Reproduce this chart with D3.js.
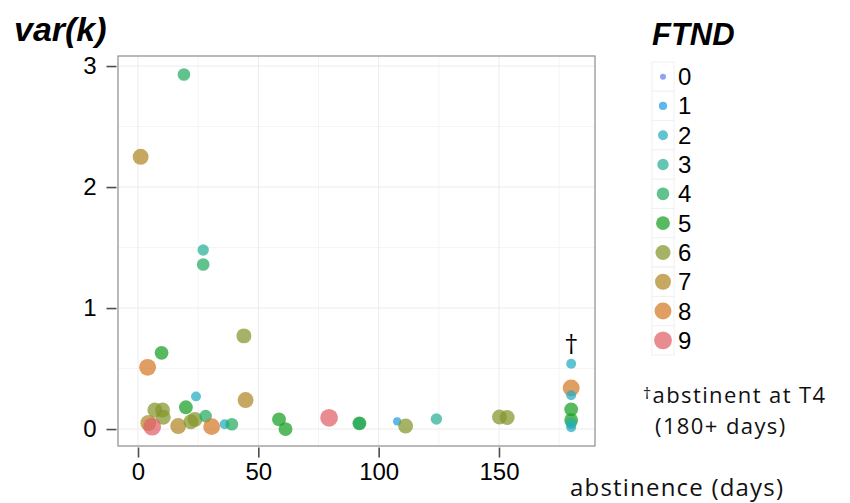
<!DOCTYPE html>
<html>
<head>
<meta charset="utf-8">
<script src="https://cdn.jsdelivr.net/npm/d3@7"></script>
<style>
  body { margin: 0; background: #fff; }
  text { font-family: "Liberation Sans", Arial, sans-serif; }
</style>
</head>
<body>
<div id="chart"></div>
<script>
// DATA
var abstinence = [19.1, 1.1, 27.1, 27.1, 44, 9.8, 4, 24.1, 44.7, 19.9,
                  7, 10.2, 10.5, 4.3, 5.9, 16.7, 22, 23.7, 28.1, 30.6,
                  36, 39, 58.6, 61.3, 79.4, 92, 92, 107.7, 111.2, 124,
                  150.2, 153.4, 180, 180, 180, 180, 180, 180, 180];
var vark = [2.93, 2.25, 1.48, 1.36, 0.77, 0.63, 0.51, 0.27, 0.24, 0.18,
            0.157, 0.157, 0.097, 0.05, 0.02, 0.025, 0.06, 0.08, 0.107, 0.02,
            0.04, 0.04, 0.08, 0.0, 0.093, 0.047, 0.047, 0.063, 0.025, 0.083,
            0.10, 0.096, 0.54, 0.34, 0.28, 0.163, 0.074, 0.047, 0.014];
var ftnd = [4, 7, 3, 4, 6, 5, 8, 2, 7, 5,
            6, 6, 6, 7, 9, 7, 6, 6, 4, 8,
            2, 4, 5, 5, 9, 5, 4, 1, 6, 3,
            6, 6, 2, 8, 2, 5, 5, 3, 2];
var ftndLevels = [0, 1, 2, 3, 4, 5, 6, 7, 8, 9];
var ftndColors = ["#6380eb", "#239be0", "#24aac0", "#26b096", "#26ab63",
                  "#18a023", "#84962b", "#b08626", "#d47826", "#e06068"];
var xTicks = [0, 50, 100, 150];
var xMinor = [25, 75, 125, 175];
var yTicks = [0, 1, 2, 3];
var yMinor = [0.5, 1.5, 2.5];

var W = 850, H = 503;
var panel = { left: 118, right: 595, top: 56, bottom: 446 };

var svg = d3.select('#chart').append('svg')
  .attr('width', W).attr('height', H);

var x = d3.scaleLinear().domain([-8.31, 189.9]).range([panel.left, panel.right]);
var y = d3.scaleLinear().domain([-0.14, 3.083]).range([panel.bottom, panel.top]);
var color = d3.scaleOrdinal().domain(ftndLevels).range(ftndColors);
var size = d3.scaleRadial().domain([0, 9]).range([3, 8.9]);

// grid
var grid = svg.append('g');
grid.selectAll('.xminor').data(xMinor).enter().append('line')
  .attr('x1', d => x(d)).attr('x2', d => x(d))
  .attr('y1', panel.top).attr('y2', panel.bottom)
  .attr('stroke', '#f5f5f5').attr('stroke-width', 1);
grid.selectAll('.yminor').data(yMinor).enter().append('line')
  .attr('x1', panel.left).attr('x2', panel.right)
  .attr('y1', d => y(d)).attr('y2', d => y(d))
  .attr('stroke', '#f5f5f5').attr('stroke-width', 1);
grid.selectAll('.xmajor').data(xTicks).enter().append('line')
  .attr('x1', d => x(d)).attr('x2', d => x(d))
  .attr('y1', panel.top).attr('y2', panel.bottom)
  .attr('stroke', '#ececec').attr('stroke-width', 1);
grid.selectAll('.ymajor').data(yTicks).enter().append('line')
  .attr('x1', panel.left).attr('x2', panel.right)
  .attr('y1', d => y(d)).attr('y2', d => y(d))
  .attr('stroke', '#ececec').attr('stroke-width', 1);

// points
var pts = abstinence.map((a, i) => ({ a: a, v: vark[i], f: ftnd[i] }));
svg.append('g').selectAll('circle').data(pts).enter().append('circle')
  .attr('cx', d => x(d.a)).attr('cy', d => y(d.v))
  .attr('r', d => size(d.f))
  .attr('fill', d => color(d.f))
  .attr('fill-opacity', 0.72);

// panel border
svg.append('rect')
  .attr('x', panel.left).attr('y', panel.top)
  .attr('width', panel.right - panel.left).attr('height', panel.bottom - panel.top)
  .attr('fill', 'none').attr('stroke', '#8c8c8c').attr('stroke-width', 1.2);

// axes
var xAxis = d3.axisBottom(x).tickValues(xTicks).tickSize(10).tickPadding(5)
  .tickFormat(d3.format('d'));
var yAxis = d3.axisLeft(y).tickValues(yTicks).tickSize(10).tickPadding(10)
  .tickFormat(d3.format('d'));
var gx = svg.append('g').attr('transform', 'translate(0,' + (panel.bottom + 1.5) + ')').call(xAxis);
var gy = svg.append('g').attr('transform', 'translate(' + (panel.left - 1.5) + ',0)').call(yAxis);
[gx, gy].forEach(g => {
  g.select('.domain').remove();
  g.selectAll('line').attr('stroke', '#4d4d4d').attr('stroke-width', 1.6);
  g.selectAll('text').attr('font-size', 24).attr('fill', '#000')
    .style('font-family', '"Liberation Sans", Arial, sans-serif');
});

// titles
svg.append('text').attr('x', 14).attr('y', 41)
  .attr('font-size', 34).attr('font-weight', 'bold').attr('font-style', 'italic')
  .text('var(k)');
svg.append('text').attr('x', 570).attr('y', 496)
  .style('font-family', '"Open Sans", sans-serif')
  .attr('font-size', 24).attr('letter-spacing', 1.2).attr('fill', '#111')
  .text('abstinence (days)');

// dagger over the 180+ column
svg.append('text').attr('x', x(180)).attr('y', 352)
  .attr('text-anchor', 'middle')
  .style('font-family', '"DejaVu Serif", serif')
  .attr('font-size', 24).text('\u2020');

// legend
var lg = svg.append('g');
lg.append('text').attr('x', 652).attr('y', 45)
  .attr('font-size', 31).attr('font-weight', 'bold').attr('font-style', 'italic')
  .text('FTND');
var keyTop = 62, keyH = 29.3;
var keys = lg.selectAll('.key').data(ftndLevels).enter().append('g')
  .attr('transform', (d, i) => 'translate(652,' + (keyTop + i * keyH) + ')');
keys.append('rect').attr('width', 22).attr('height', keyH)
  .attr('fill', '#fff').attr('stroke', '#f0f0f0').attr('stroke-width', 1);
keys.append('circle').attr('cx', 11).attr('cy', keyH / 2)
  .attr('r', d => size(d)).attr('fill', d => color(d)).attr('fill-opacity', 0.72);
keys.append('text').attr('x', 26).attr('y', keyH / 2 + 8.5)
  .attr('font-size', 24).text(d => d);

// footnote
var fn = svg.append('text')
  .style('font-family', '"Open Sans", sans-serif')
  .attr('font-size', 22).attr('letter-spacing', 1.4).attr('fill', '#111');
fn.append('tspan').attr('x', 643).attr('y', 399).attr('font-size', 16).text('\u2020');
fn.append('tspan').attr('y', 403).text('abstinent at T4');
fn.append('tspan').attr('x', 655).attr('y', 434).text('(180+ days)');
</script>
</body>
</html>
